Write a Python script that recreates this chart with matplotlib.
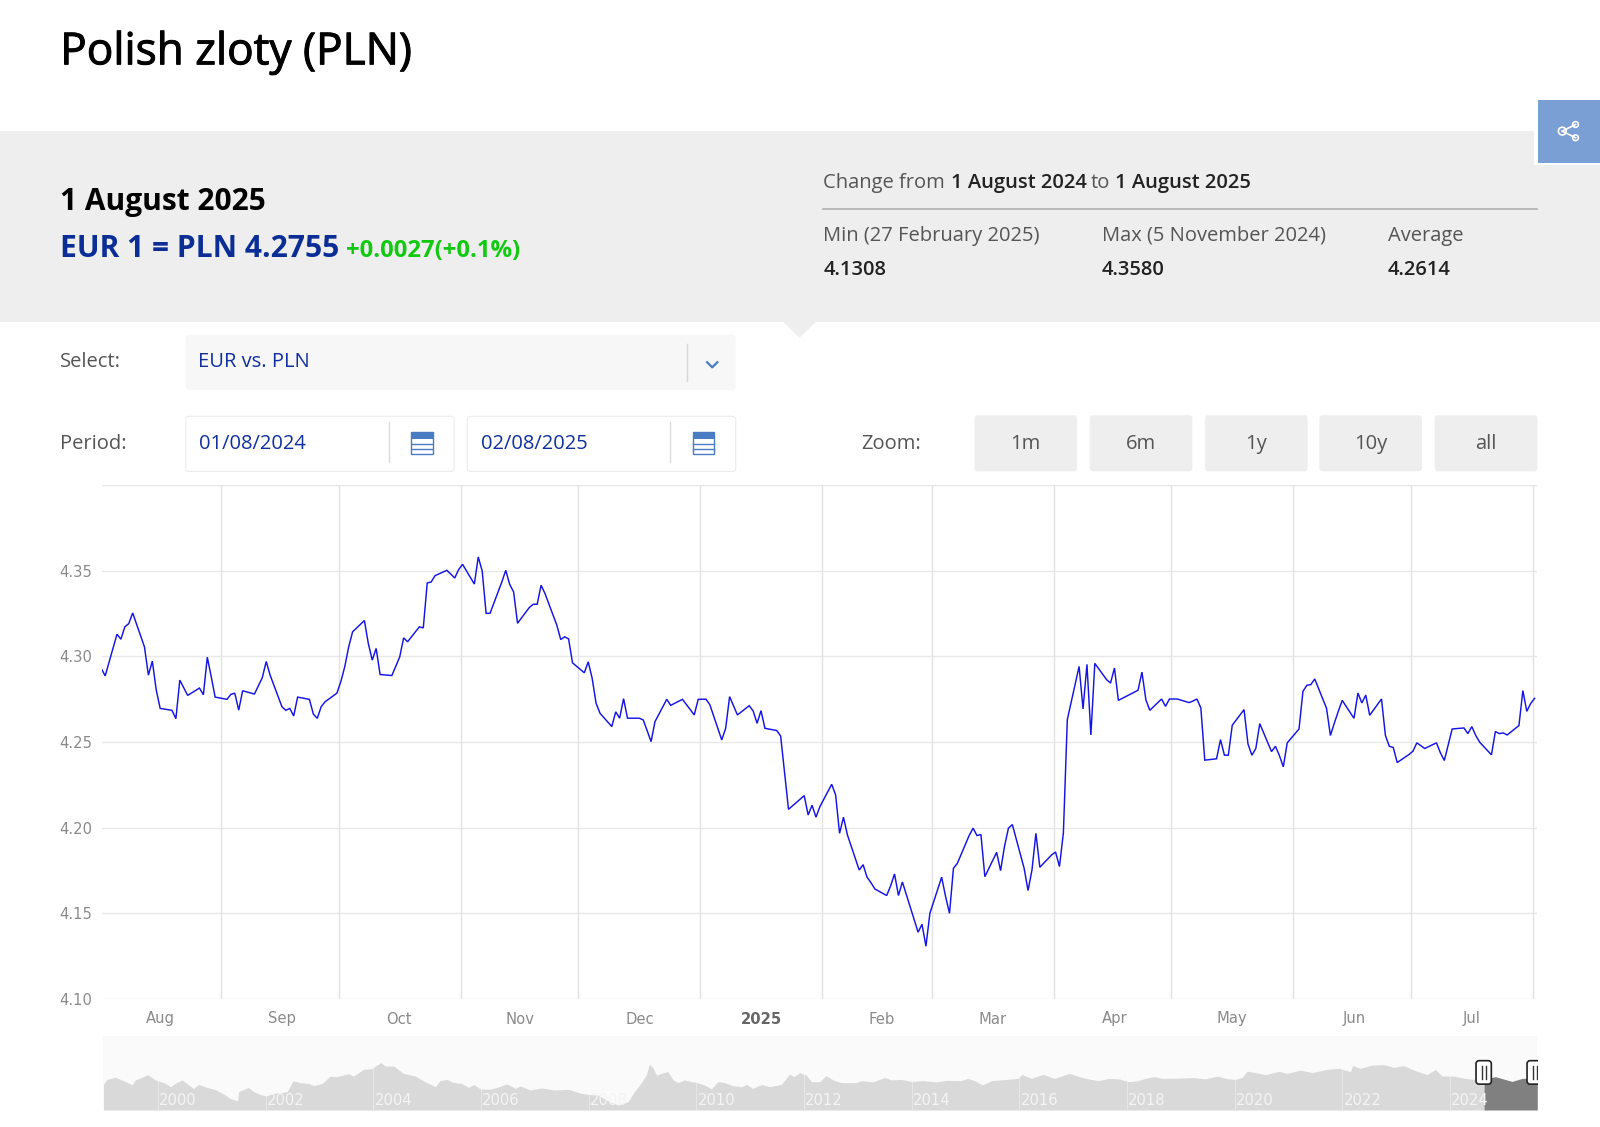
import matplotlib
matplotlib.use("Agg")
import numpy as np
import matplotlib.pyplot as plt
import matplotlib.patheffects as pe
from matplotlib.patches import Rectangle, FancyBboxPatch, Polygon, Circle

# =====================================================
# DATA
# =====================================================

# days since 1 Aug 2024, one entry per published rate
days = [
    0, 1, 4, 5, 6, 7, 8, 11, 12, 13, 14, 15, 18, 19, 20, 21, 22, 25, 26, 27, 28, 29,
    32, 33, 34, 35, 36, 39, 40, 41, 42, 43, 46, 47, 48, 49, 50, 53, 54, 55, 56, 57,
    60, 61, 62, 63, 64, 67, 68, 69, 70, 71, 74, 75, 76, 77, 78, 81, 82, 83, 84, 85,
    88, 89, 90, 91, 92, 95, 96, 97, 98, 99, 102, 103, 104, 105, 106, 109, 110, 111, 112, 113,
    116, 117, 118, 119, 120, 123, 124, 125, 126, 127, 130, 131, 132, 133, 134, 137, 138, 139, 140, 141,
    144, 145, 148, 151, 152, 154, 155, 158, 159, 160, 161, 162, 165, 166, 167, 168, 169,
    172, 173, 174, 175, 176, 179, 180, 181, 182, 183, 186, 187, 188, 189, 190, 193, 194, 195, 196, 197,
    200, 201, 202, 203, 204, 207, 208, 209, 210, 211, 214, 215, 216, 217, 218, 221, 222, 223, 224, 225,
    228, 229, 230, 231, 232, 235, 236, 237, 238, 239, 242, 243, 244, 245, 246, 249, 250, 251, 252, 253,
    256, 257, 258, 259, 264, 265, 266, 267, 270, 271, 272, 274, 277, 278, 279, 280, 281,
    284, 285, 286, 287, 288, 291, 292, 293, 294, 295, 298, 299, 300, 301, 302, 305, 306, 307, 308, 309,
    312, 313, 314, 315, 316, 319, 320, 321, 322, 323, 326, 327, 328, 329, 330, 333, 334, 335, 336, 337,
    340, 341, 342, 343, 344, 347, 348, 349, 350, 351, 354, 355, 356, 357, 358, 361, 362, 363, 364, 365,
]

rates = [
    4.2929, 4.2886, 4.3129, 4.3100, 4.3172, 4.3191, 4.3253, 4.3055, 4.2890, 4.2972, 4.2803, 4.2696,
    4.2685, 4.2636, 4.2861, 4.2817, 4.2772, 4.2815, 4.2776, 4.2995, 4.2881, 4.2762,
    4.2749, 4.2778, 4.2785, 4.2686, 4.2799, 4.2780, 4.2828, 4.2875, 4.2970, 4.2890,
    4.2706, 4.2685, 4.2696, 4.2652, 4.2762, 4.2749, 4.2663, 4.2638, 4.2706, 4.2735,
    4.2785, 4.2852, 4.2939, 4.3055, 4.3143, 4.3209, 4.3075, 4.2978, 4.3046, 4.2894,
    4.2888, 4.2943, 4.2997, 4.3108, 4.3085, 4.3172, 4.3166, 4.3428, 4.3434, 4.3471,
    4.3502, 4.3480, 4.3457, 4.3506, 4.3537, 4.3422, 4.3580, 4.3498, 4.3251, 4.3251,
    4.3434, 4.3502, 4.3420, 4.3376, 4.3193, 4.3285, 4.3304, 4.3304, 4.3415, 4.3366,
    4.3182, 4.3098, 4.3114, 4.3102, 4.2962, 4.2904, 4.2968, 4.2872, 4.2726, 4.2668,
    4.2590, 4.2676, 4.2639, 4.2753, 4.2639, 4.2639, 4.2629, 4.2567, 4.2502, 4.2619,
    4.2749, 4.2714, 4.2749, 4.2658, 4.2749, 4.2750, 4.2716, 4.2512, 4.2580, 4.2765, 4.2711, 4.2658,
    4.2712, 4.2681, 4.2609, 4.2683, 4.2580,
    4.2567, 4.2535, 4.2318, 4.2107, 4.2127, 4.2187, 4.2074, 4.2131, 4.2061, 4.2123,
    4.2253, 4.2191, 4.1967, 4.2061, 4.1958, 4.1753, 4.1784, 4.1711, 4.1679, 4.1642,
    4.1604, 4.1660, 4.1730, 4.1604, 4.1683, 4.1462, 4.1390, 4.1436, 4.1308, 4.1500,
    4.1711, 4.1598, 4.1500, 4.1763, 4.1792, 4.1954, 4.1997, 4.1954, 4.1960, 4.1714,
    4.1856, 4.1749, 4.1890, 4.1997, 4.2018, 4.1763, 4.1633, 4.1753, 4.1967, 4.1769,
    4.1841, 4.1858, 4.1773, 4.1971, 4.2631, 4.2941, 4.2693, 4.2953, 4.2541, 4.2959,
    4.2864, 4.2844, 4.2932, 4.2743, 4.2802, 4.2908, 4.2747, 4.2685, 4.2751, 4.2708, 4.2751, 4.2751,
    4.2730, 4.2739, 4.2751, 4.2699, 4.2394,
    4.2402, 4.2514, 4.2423, 4.2423, 4.2598, 4.2689, 4.2489, 4.2423, 4.2462, 4.2607,
    4.2444, 4.2475, 4.2421, 4.2355, 4.2495, 4.2576, 4.2796, 4.2831, 4.2835, 4.2868,
    4.2697, 4.2538, 4.2611, 4.2679, 4.2743, 4.2638, 4.2786, 4.2728, 4.2774, 4.2656,
    4.2751, 4.2538, 4.2475, 4.2468, 4.2380, 4.2427, 4.2446, 4.2495, 4.2479, 4.2462,
    4.2495, 4.2437, 4.2392, 4.2485, 4.2576, 4.2582, 4.2549, 4.2590, 4.2538, 4.2499,
    4.2425, 4.2561, 4.2549, 4.2553, 4.2541, 4.2596, 4.2800, 4.2679, 4.2725, 4.2755,
]

month_days = [31, 61, 92, 122, 153, 184, 212, 243, 273, 304, 334, 365]
month_labels = ["Aug", "Sep", "Oct", "Nov", "Dec", "2025", "Feb", "Mar", "Apr", "May", "Jun", "Jul"]
month_label_days = [15.5, 46.4, 76.3, 107.2, 137.6, 168.5, 199.2, 227.5, 258.5, 288.3, 319.5, 349.4]
rate_ticks = [4.10, 4.15, 4.20, 4.25, 4.30, 4.35, 4.40]

# long history for the navigator strip
nav_years = [
    1998.99, 1999.05, 1999.21, 1999.36, 1999.52, 1999.58, 1999.70, 1999.81, 1999.95, 2000.11,
    2000.24, 2000.32, 2000.45, 2000.57, 2000.66, 2000.76, 2000.91, 2001.06, 2001.22, 2001.34,
    2001.48, 2001.50, 2001.59, 2001.68, 2001.78, 2001.90, 2002.01, 2002.15, 2002.40, 2002.51,
    2002.64, 2002.80, 2002.89, 2003.05, 2003.20, 2003.32, 2003.54, 2003.63, 2003.82, 2003.97,
    2004.14, 2004.22, 2004.38, 2004.56, 2004.78, 2004.96, 2005.15, 2005.24, 2005.37, 2005.49,
    2005.64, 2005.77, 2005.86, 2005.99, 2006.14, 2006.30, 2006.48, 2006.64, 2006.73, 2006.91,
    2007.13, 2007.35, 2007.63, 2007.87, 2008.09, 2008.17, 2008.39, 2008.55, 2008.73, 2008.85,
    2008.98, 2009.07, 2009.13, 2009.20, 2009.26, 2009.35, 2009.47, 2009.57, 2009.66, 2009.78,
    2009.91, 2010.00, 2010.15, 2010.28, 2010.40, 2010.53, 2010.68, 2010.84, 2010.93, 2011.05,
    2011.21, 2011.36, 2011.58, 2011.73, 2011.81, 2011.92, 2012.04, 2012.14, 2012.29, 2012.41,
    2012.54, 2012.69, 2012.97, 2013.06, 2013.28, 2013.50, 2013.62, 2013.81, 2013.99, 2014.21,
    2014.46, 2014.64, 2014.92, 2015.04, 2015.17, 2015.31, 2015.48, 2015.66, 2015.97, 2016.05,
    2016.22, 2016.44, 2016.65, 2016.93, 2017.11, 2017.28, 2017.47, 2017.66, 2017.85, 2018.03,
    2018.19, 2018.34, 2018.50, 2018.65, 2018.96, 2019.24, 2019.45, 2019.67, 2019.86, 2020.01,
    2020.14, 2020.23, 2020.38, 2020.57, 2020.82, 2020.97, 2021.22, 2021.44, 2021.71, 2021.93,
    2022.15, 2022.19, 2022.33, 2022.55, 2022.77, 2022.95, 2023.14, 2023.35, 2023.57, 2023.73,
    2023.85, 2024.07, 2024.28, 2024.44, 2024.63, 2024.84, 2025.15, 2025.34, 2025.62,
]
nav_rates = [
    4.02, 4.22, 4.30, 4.17, 4.00, 4.20, 4.30, 4.41, 4.20, 4.09,
    3.93, 4.06, 4.20, 4.00, 3.86, 4.02, 3.90, 3.82, 3.64, 3.46,
    3.37, 3.73, 3.82, 3.90, 3.73, 3.62, 3.56, 3.66, 3.73, 4.16,
    4.09, 4.06, 3.97, 4.06, 4.35, 4.33, 4.45, 4.35, 4.62, 4.65,
    4.89, 4.75, 4.75, 4.46, 4.35, 4.13, 3.93, 4.17, 4.22, 4.09,
    4.06, 3.90, 4.02, 3.84, 3.82, 3.90, 4.04, 3.86, 3.96, 3.80,
    3.88, 3.80, 3.82, 3.66, 3.60, 3.60, 3.33, 3.20, 3.33, 3.73,
    4.09, 4.39, 4.83, 4.66, 4.39, 4.46, 4.53, 4.20, 4.09, 4.20,
    4.13, 4.10, 4.00, 3.84, 4.13, 4.09, 3.97, 3.93, 4.02, 3.86,
    4.02, 3.93, 4.02, 4.43, 4.33, 4.49, 4.39, 4.13, 4.13, 4.37,
    4.20, 4.09, 4.09, 4.17, 4.12, 4.30, 4.20, 4.22, 4.14, 4.17,
    4.12, 4.18, 4.17, 4.26, 4.17, 4.00, 4.17, 4.20, 4.26, 4.42,
    4.26, 4.42, 4.26, 4.46, 4.33, 4.24, 4.17, 4.26, 4.24, 4.13,
    4.16, 4.26, 4.33, 4.26, 4.27, 4.29, 4.24, 4.35, 4.25, 4.22,
    4.30, 4.55, 4.49, 4.41, 4.54, 4.46, 4.59, 4.49, 4.62, 4.66,
    4.53, 4.78, 4.66, 4.79, 4.81, 4.70, 4.77, 4.57, 4.41, 4.62,
    4.35, 4.35, 4.26, 4.22, 4.22, 4.33, 4.14, 4.26, 4.27,
]
nav_tick_years = list(range(2000, 2026, 2))

zoom_labels = ["1m", "6m", "1y", "10y", "all"]
stats_labels = ["Min (27 February 2025)", "Max (5 November 2024)", "Average"]
stats_values = ["4.1308", "4.3580", "4.2614"]

# =====================================================
# COLOURS
# =====================================================

UI_FONT = "Open Sans"
BAND = "#eeeeee"
NAVY = "#0a2d96"
LINK = "#1030a0"
ICON = "#4a7cc4"
GREY_TEXT = "#555555"
TICK_TEXT = "#8a8a8a"
GRID = "#e8e8e8"

fig = plt.figure(figsize=(16, 11.27), dpi=100, facecolor="white")

# page furniture lives in one full-figure axes, in layout pixels
page = fig.add_axes([0, 0, 1, 1])
page.set_xlim(0, 1568)
page.set_ylim(1104.5, 0)
page.axis("off")


def label(x, y, text, size=14.5, color=GREY_TEXT, weight="normal", ha="left"):
    return page.text(x, y + 2, text, fontsize=size, color=color, fontweight=weight,
                     family=UI_FONT, ha=ha, va="center")


def box(x0, y0, x1, y1, face, edge="none", radius=3):
    page.add_patch(FancyBboxPatch(
        (x0 + radius, y0 + radius), x1 - x0 - 2 * radius, y1 - y0 - 2 * radius,
        boxstyle=f"round,pad={radius},rounding_size={radius}",
        facecolor=face, edgecolor=edge, linewidth=0.8))


def calendar(cx, cy):
    page.add_patch(Rectangle((cx - 10.5, cy - 11), 21, 22, facecolor="white", edgecolor=ICON, linewidth=1))
    page.add_patch(Rectangle((cx - 10.5, cy - 11), 21, 7, facecolor=ICON, edgecolor="none"))
    for dy in (1, 6):
        page.plot([cx - 10, cx + 10], [cy + dy, cy + dy], color=ICON, lw=1)


# =====================================================
# HEADER
# =====================================================

title = label(59, 50, "Polish zloty (PLN)", size=31.8, color="#000000")
title.set_path_effects([pe.withStroke(linewidth=0.7, foreground="#000000")])

page.add_patch(Rectangle((0, 128.5), 1568, 187, facecolor=BAND, edgecolor="none"))
page.add_patch(Polygon([[767, 315], [800, 315], [783.5, 331]], facecolor=BAND, edgecolor="none"))

page.add_patch(Rectangle((1503, 96), 65, 66, facecolor="white", edgecolor="none"))
page.add_patch(Rectangle((1507, 98), 61, 62, facecolor="#7a9fd4", edgecolor="none"))
page.plot([1531, 1544], [128.5, 122], color="white", lw=1.2)
page.plot([1531, 1544], [128.5, 135], color="white", lw=1.2)
for cx, cy, r in [(1531, 128.5, 3.8), (1544, 122, 2.8), (1544, 135, 2.8)]:
    page.add_patch(Circle((cx, cy), r, facecolor="#7a9fd4", edgecolor="white", linewidth=1.2))

label(59, 196, "1 August 2025", size=21.5, color="#000000", weight="bold")
label(59, 242, "EUR 1 = PLN 4.2755", size=21.6, color=NAVY, weight="bold")
label(339, 244, "+0.0027(+0.1%)", size=17.2, color="#12c912", weight="bold")

label(807, 177, "Change from")
label(932, 177, "1 August 2024", color="#222222", weight="semibold")
label(1069, 177, "to")
label(1093, 177, "1 August 2025", color="#222222", weight="semibold")
page.plot([807, 1506], [205, 205], color="#b0b0b0", lw=1.2)

for x, name, val in zip([807, 1080, 1360], stats_labels, stats_values):
    label(x, 229, name)
    label(x, 263, val, color="#222222", weight="semibold")

# =====================================================
# CONTROLS
# =====================================================

label(59, 353, "Select:")
box(182, 328, 721, 382, "#f7f7f7")
label(194, 353, "EUR vs. PLN", color=LINK)
page.plot([673, 673], [337, 373], color="#d8d8d8", lw=1)
page.plot([693, 698, 703], [355, 360, 355], color=ICON, lw=1.6)

label(59, 433, "Period:")
box(182, 408, 445, 462, "white", edge="#ececec")
box(458, 408, 721, 462, "white", edge="#ececec")
label(195, 433, "01/08/2024", color=LINK)
label(471, 433, "02/08/2025", color=LINK)
for sep, icon in [(381, 413.5), (657, 689.5)]:
    page.plot([sep, sep], [414, 453], color="#dcdcdc", lw=1)
    calendar(icon, 434)

label(844, 433, "Zoom:")
for x0, text in zip([955, 1068, 1181, 1293, 1406], zoom_labels):
    box(x0, 407, x0 + 100.5, 462, BAND)
    label(x0 + 50, 433, text, ha="center")

# =====================================================
# MAIN CHART
# =====================================================

W, H = 1600.0, 1127.0
ax = fig.add_axes([102.25 / W, 1 - 999 / H, (1537 - 102.25) / W, (999 - 485) / H])
ax.patch.set_alpha(0)

# rates are fixed at midday, the grid sits on month starts
ax.plot(np.array(days) + 0.5, rates, color="#1414e6", lw=1.05, solid_joinstyle="miter", zorder=3)

ax.set_xlim(0.75, 366.1)
ax.set_ylim(4.10, 4.40)
ax.set_yticks(rate_ticks, [f"{v:.2f}" for v in rate_ticks[:-1]] + [""])
ax.yaxis.grid(True, color=GRID, lw=1.0)
ax.set_axisbelow(True)
for m in month_days:
    ax.axvline(m, color="#e2e2e6", lw=1.0, zorder=1)

ax.set_xticks(month_label_days, month_labels)
ax.tick_params(axis="both", length=0, labelcolor=TICK_TEXT, labelsize=10.6)
ax.tick_params(axis="x", pad=9)
ax.tick_params(axis="y", pad=7)
for tick in ax.get_xticklabels():
    if tick.get_text() == "2025":
        tick.set_fontweight("bold")
        tick.set_color("#666666")
for side in ax.spines:
    ax.spines[side].set_visible(False)

# =====================================================
# NAVIGATOR
# =====================================================

nav = fig.add_axes([103 / W, 1 - 1110 / H, (1537.3 - 103) / W, 74 / H])
nav.set_facecolor("#fafafa")
sel_start = 2024.63
nav_x = np.array(nav_years)
nav_y = np.array(nav_rates)
nav.fill_between(nav_x[nav_x <= sel_start], 3.0, nav_y[nav_x <= sel_start], color="#d9d9d9", lw=0)
nav.fill_between(nav_x[nav_x >= sel_start], 3.0, nav_y[nav_x >= sel_start], color="#808080", lw=0)
nav.set_xlim(1998.98, 2025.62)
nav.set_ylim(3.0, 5.95)
nav.set_yticks([])
for y in nav_tick_years:
    nav.axvline(y, color="white", lw=0.8, alpha=0.35)
nav.set_xticks([y + 0.37 for y in nav_tick_years], [str(y) for y in nav_tick_years])
nav.tick_params(axis="x", length=0, pad=-12.5, labelcolor="#f4f4f4", labelsize=10.6)
for side in nav.spines:
    nav.spines[side].set_visible(False)

# drag handles on top of everything
top = fig.add_axes([0, 0, 1, 1])
top.set_xlim(0, 1568)
top.set_ylim(1104.5, 0)
top.axis("off")
for cx in (1454, 1504):
    top.add_patch(FancyBboxPatch((cx - 5, 1042), 10, 18, boxstyle="round,pad=2.5,rounding_size=3",
                                 facecolor="white", edgecolor="#222222", linewidth=1.2))
    top.plot([cx - 2, cx - 2], [1045, 1057], color="#333333", lw=1)
    top.plot([cx + 2, cx + 2], [1045, 1057], color="#333333", lw=1)
top.add_patch(Rectangle((1507, 1030), 61, 40, facecolor="white", edgecolor="none", zorder=5))

fig.savefig("out.png", dpi=100)
plt.close(fig)
